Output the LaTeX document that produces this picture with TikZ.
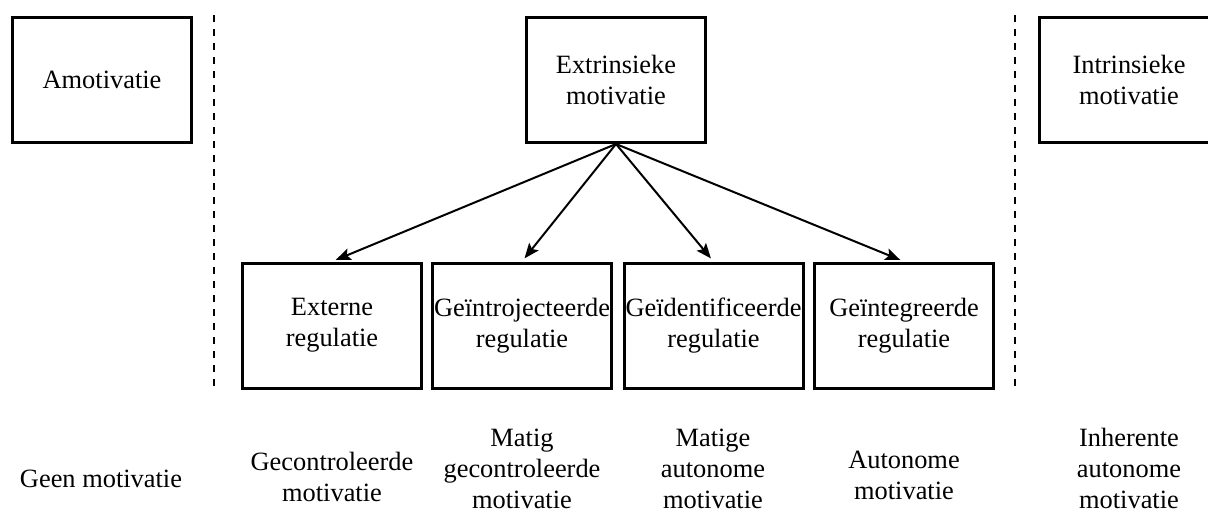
\documentclass[tikz,border=0pt]{standalone}
\usepackage{fontspec}
\setmainfont{Liberation Serif}
\usetikzlibrary{arrows.meta}
\begin{document}
\begin{tikzpicture}[x=1pt,y=-1pt,
  box/.style={draw,line width=3pt,minimum width=179pt,minimum height=125pt,inner sep=0pt,align=center,font=\fontsize{26.4}{31}\selectfont},
  lbl/.style={align=center,inner sep=0pt,anchor=base,font=\fontsize{26.4}{31}\selectfont},
  arr/.style={line width=2pt,-{Stealth[length=15pt,width=12pt,inset=3pt]},shorten >=4pt},
  sep/.style={line width=2pt,dash pattern=on 7pt off 7pt}]
\useasboundingbox (0,0) rectangle (1208,517);
\node[box] (amot) at (102,80) {Amotivatie};
\node[box] (extr) at (616,80) {Extrinsieke\\motivatie};
\node[box] (intr) at (1129,80) {Intrinsieke\\motivatie};
\node[box] (ext) at (332,325.5) {Externe\\regulatie};
\node[box] (intro) at (522,325.5) {Geïntrojecteerde\\regulatie};
\node[box] (ident) at (713.5,325.5) {Geïdentificeerde\\regulatie};
\node[box] (integ) at (904,325.5) {Geïntegreerde\\regulatie};
\draw[arr] (extr.south) -- (ext.north);
\draw[arr] (extr.south) -- (intro.north);
\draw[arr] (extr.south) -- (ident.north);
\draw[arr] (extr.south) -- (integ.north);
\coordinate (d1t) at (214,15);
\coordinate (d1b) at (214,387);
\coordinate (d2t) at (1015,15);
\coordinate (d2b) at (1015,387);
\draw[sep] (d1t) -- (d1b);
\draw[sep] (d2t) -- (d2b);
\node[lbl] (l1) at (101,487) {Geen motivatie};
\node[lbl] (l2) at (332,501) {Gecontroleerde\\motivatie};
\node[lbl] (l3) at (522,508) {Matig\\gecontroleerde\\motivatie};
\node[lbl] (l4) at (713,508) {Matige\\autonome\\motivatie};
\node[lbl] (l5) at (904,499) {Autonome\\motivatie};
\node[lbl] (l6) at (1129,508) {Inherente\\autonome\\motivatie};
\end{tikzpicture}
\end{document}
